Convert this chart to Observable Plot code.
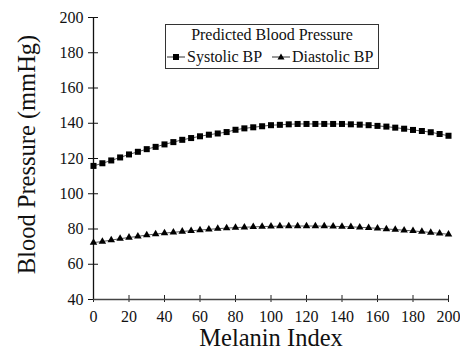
<!DOCTYPE html>
<html>
<head>
<meta charset="utf-8">
<script src="https://cdn.jsdelivr.net/npm/d3@7"></script>
<script src="https://cdn.jsdelivr.net/npm/@observablehq/plot@0.6"></script>
<style>
  html, body { margin: 0; padding: 0; background: #fff; }
  #wrap { position: relative; width: 460px; height: 360px; font-family: "Liberation Serif", "Times New Roman", serif; }
  #wrap svg text { font-family: "Liberation Serif", "Times New Roman", serif; }
  #legend {
    position: absolute; left: 165px; top: 24px; width: 212px; height: 43px;
    border: 1px solid #333; background: #fff; color: #111; font-size: 16px;
  }
  #legend .t { position: absolute; left: 0; right: 0; top: 1px; text-align: center; }
  #legend .r { position: absolute; top: 23px; white-space: nowrap; display: flex; align-items: center; }
  #legend svg { display: block; margin-right: 2px; }
</style>
</head>
<body>
<div id="wrap"></div>
<script>
const melanin = [0,5,10,15,20,25,30,35,40,45,50,55,60,65,70,75,80,85,90,95,100,105,110,115,120,125,130,135,140,145,150,155,160,165,170,175,180,185,190,195,200];
const systolic = [115.8,117.3,118.9,120.6,122.3,123.8,125.3,126.6,128.0,129.3,130.6,131.6,132.6,133.5,134.2,135.0,136.3,137.1,137.7,138.3,138.9,139.1,139.4,139.6,139.6,139.6,139.6,139.6,139.6,139.4,139.2,138.9,138.5,138.1,137.5,136.9,136.2,135.6,134.9,133.9,132.9];
const diastolic = [72.3,72.9,73.7,74.5,75.2,75.8,76.6,77.1,77.7,78.1,78.6,79.0,79.4,79.8,80.2,80.5,80.8,81.0,81.2,81.4,81.5,81.6,81.7,81.7,81.7,81.7,81.6,81.5,81.4,81.2,81.0,80.7,80.4,80.0,79.7,79.3,78.9,78.5,78.0,77.5,77.0];
const xTicks = [0,20,40,60,80,100,120,140,160,180,200];
const yTicks = [40,60,80,100,120,140,160,180,200];
const seriesNames = ["Systolic BP", "Diastolic BP"];
const legendTitle = "Predicted Blood Pressure";
const xLabel = "Melanin Index";
const yLabel = "Blood Pressure (mmHg)";

const rows = [];
melanin.forEach((m, i) => {
  rows.push({series: seriesNames[0], x: m, y: systolic[i]});
  rows.push({series: seriesNames[1], x: m, y: diastolic[i]});
});
const sys = rows.filter(d => d.series === seriesNames[0]);
const dia = rows.filter(d => d.series === seriesNames[1]);

const font = '"Liberation Serif", "Times New Roman", serif';
const chart = Plot.plot({
  width: 460,
  height: 360,
  marginLeft: 93,
  marginRight: 12,
  marginTop: 17,
  marginBottom: 61,
  style: {fontFamily: font, fontSize: "16px", color: "#111", background: "#fff", overflow: "visible"},
  x: {domain: [0, 200]},
  y: {domain: [40, 200]},
  marks: [
    Plot.axisY(yTicks, {tickSize: 0, tickPadding: 10, fontSize: 16, label: null, fill: "#111"}),
    Plot.axisX(xTicks, {tickSize: 0, tickPadding: 11, fontSize: 16, label: null, fill: "#111"}),
    Plot.ruleY(yTicks, {x1: 0, x2: 0, insetLeft: -5, insetRight: -5, stroke: "#111"}),
    Plot.ruleX(xTicks, {y1: 40, y2: 40, insetTop: -4, insetBottom: -3, stroke: "#222"}),
    Plot.ruleX([0], {stroke: "#111", strokeWidth: 1.3}),
    Plot.ruleY([40], {stroke: "#444", strokeWidth: 1.6}),
    Plot.line(sys, {x: "x", y: "y", stroke: "#555", strokeWidth: 1}),
    Plot.line(dia, {x: "x", y: "y", stroke: "#555", strokeWidth: 1}),
    Plot.dot(sys, {x: "x", y: "y", symbol: "square", r: 3.4, fill: "#000", stroke: "none"}),
    Plot.dot(dia, {x: "x", y: "y", symbol: "triangle", r: 2.8, fill: "#000", stroke: "none"}),
    Plot.text([xLabel], {frameAnchor: "bottom", dy: 46, fontSize: 24.5, fill: "#111", textAnchor: "middle"}),
    Plot.text([yLabel], {frameAnchor: "left", dx: -66, dy: -4, rotate: -90, fontSize: 24.5, fill: "#111", textAnchor: "middle"})
  ]
});
const wrap = document.getElementById("wrap");
wrap.appendChild(chart);

// legend
const legend = document.createElement("div");
legend.id = "legend";
const t = document.createElement("div");
t.className = "t";
t.textContent = legendTitle;
legend.appendChild(t);
function marker(kind) {
  const s = d3.create("svg").attr("width", 18).attr("height", 12);
  s.append("line").attr("x1", 0).attr("x2", 18).attr("y1", 6).attr("y2", 6).attr("stroke", "#333");
  if (kind === "square") s.append("rect").attr("x", 6).attr("y", 3).attr("width", 6).attr("height", 6).attr("fill", "#000");
  else s.append("path").attr("d", "M9,2.5L12.5,8.5L5.5,8.5Z").attr("fill", "#000");
  return s.node();
}
const r1 = document.createElement("div");
r1.className = "r"; r1.style.left = "1px";
r1.appendChild(marker("square"));
r1.appendChild(document.createTextNode(seriesNames[0]));
legend.appendChild(r1);
const r2 = document.createElement("div");
r2.className = "r"; r2.style.left = "106px";
r2.appendChild(marker("triangle"));
r2.appendChild(document.createTextNode(seriesNames[1]));
legend.appendChild(r2);
wrap.appendChild(legend);
</script>
</body>
</html>
